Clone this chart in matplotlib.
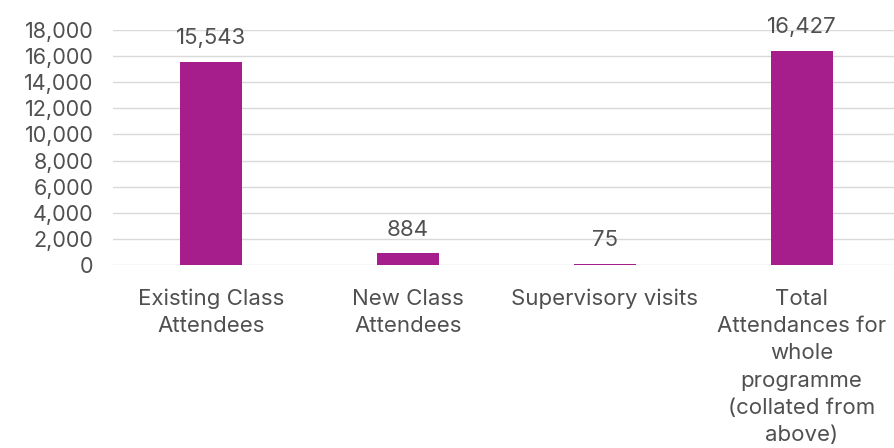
import matplotlib.pyplot as plt
from matplotlib.ticker import FuncFormatter

categories = [
    "Existing Class\nAttendees",
    "New Class\nAttendees",
    "Supervisory visits",
    "Total\nAttendances for\nwhole\nprogramme\n(collated from\nabove)",
]
values = [15543, 884, 75, 16427]
y_ticks = list(range(0, 18001, 2000))

plt.rcParams['font.family'] = ['Inter', 'DejaVu Sans']

fig = plt.figure(figsize=(8.94, 4.48), dpi=100)
ax = fig.add_axes([113 / 894, 1 - 265 / 448, 1 - 113 / 894, (265 - 30) / 448])

x = range(len(categories))
ax.bar(x, values, width=0.315, color="#a51e8c", zorder=3)

for xi, v in zip(x, values):
    ax.annotate("{:,}".format(v), (xi, v), xytext=(0, 10), textcoords="offset points",
                ha="center", va="bottom", fontsize=16, color="#505050")

ax.set_ylim(0, 18000)
ax.set_xlim(-0.5, 3.47)
ax.set_yticks(y_ticks)
ax.yaxis.set_major_formatter(FuncFormatter(lambda v, p: "{:,}".format(int(v))))
ax.set_xticks(list(x))
ax.set_xticklabels(categories, fontsize=16, color="#505050", linespacing=1.46, va="top")
ax.tick_params(axis="y", length=0, pad=14, labelsize=15.5, labelcolor="#505050")
ax.tick_params(axis="x", length=0, pad=17)

ax.grid(axis="y", color="#d9d9d9", linewidth=1, zorder=0)
for s in ax.spines.values():
    s.set_visible(False)

fig.savefig("out.png", dpi=100)
